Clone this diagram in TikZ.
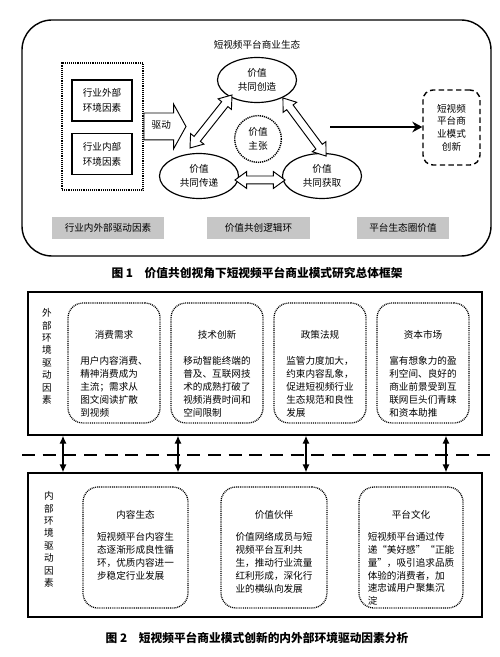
\documentclass[tikz,border=0pt]{standalone}
\usepackage{fontspec}
\setmainfont{Noto Sans CJK SC}
\usetikzlibrary{arrows.meta,positioning,shapes.geometric,shapes.arrows}
\definecolor{LabelGray}{RGB}{198,198,198}
\tikzset{
  txt/.style={inner sep=0pt,font=\fontsize{8.2}{11}\selectfont},
  ecoframe/.style={draw,line width=1.2pt},
  driverbox/.style={draw,line width=0.9pt,dash pattern=on 0.7pt off 0.9pt,minimum width=24.3mm,minimum height=38.1mm},
  envbox/.style={draw,line width=1.1pt,minimum width=18mm,minimum height=12.3mm,align=center,inner sep=0pt,font=\fontsize{8.2}{13}\selectfont},
  phase/.style={ellipse,draw,line width=1pt,minimum width=23.7mm,minimum height=13.5mm,align=center,inner sep=0pt,font=\fontsize{8.2}{12.5}\selectfont},
  propcircle/.style={circle,draw,line width=1.2pt,dash pattern=on 1pt off 0.8pt,minimum size=14mm,align=center,inner sep=0pt,font=\fontsize{8.2}{12.5}\selectfont},
  hollow/.style={double arrow,draw,line width=0.8pt,fill=white,inner sep=1.05mm,double arrow head extend=1.35mm,double arrow tip angle=72},
  drive/.style={single arrow,draw,line width=0.8pt,fill=white,single arrow head extend=2.7mm,single arrow tip angle=122,minimum height=12.6mm,inner xsep=1mm,inner ysep=2.45mm,text height=2.2mm,text depth=0.7mm,font=\fontsize{8.2}{10}\selectfont},
  flow/.style={-{Stealth[length=3mm,width=3.2mm]},line width=2pt},
  innobox/.style={draw,line width=1.2pt,dash pattern=on 1.6mm off 1mm,rounded corners=3mm,minimum width=17.1mm,minimum height=22.5mm,align=center,inner sep=0pt,font=\fontsize{8.2}{10.8}\selectfont},
  graylabel/.style={fill=LabelGray,minimum height=6.6mm,inner sep=0pt,font=\fontsize{8.2}{10}\selectfont},
  factorbox/.style={draw,line width=1.1pt,dash pattern=on 0.8pt off 0.8pt,rounded corners=4.5mm},
  ftext/.style={txt,align=left},
  vlabel/.style={align=center,inner sep=0pt,font=\fontsize{8.2}{10.6}\selectfont},
  link/.style={{Latex[length=2.4mm,width=2.2mm]}-{Latex[length=2.4mm,width=2.2mm]},line width=1.2pt},
  sepline/.style={line width=2pt,dash pattern=on 3.9mm off 2.3mm},
  captext/.style={inner sep=0pt,font=\fontsize{10}{12}\selectfont\bfseries}
}

\begin{document}
\begin{tikzpicture}[x=0.3mm,y=-0.3mm]
\useasboundingbox (0,0) rectangle (500,657);
% figure 1: ecosystem frame
\node[ecoframe,rounded corners=9mm,minimum width=140.7mm,minimum height=70.8mm] (eco) at (256.5,138) {};
\node[txt] (ecotitle) at (257,45) {短视频平台商业生态};

\node[driverbox] (drivers) at (102.5,126.5) {};
\node[envbox] (extfac) at (102,100.5) {行业外部\\环境因素};
\node[envbox] (intfac) at (102,154) {行业内部\\环境因素};
\node[drive,anchor=tail] (drv) at (drivers.east) {驱动};

\node[phase] (create) at (257,80) {价值\\共同创造};
\node[phase] (deliver) at (199,176) {价值\\共同传递};
\node[phase] (capture) at (322,176) {价值\\共同获取};
\node[propcircle] (prop) at (258,139) {价值\\主张};

\node[hollow,minimum height=20.3mm,rotate=51.6] (cd) at (211,121.5) {};
\node[hollow,minimum height=21.7mm,rotate=-53.4] (cc) at (304.5,127) {};
\node[hollow,minimum height=15mm] (dc) at (260,180) {};

\node[innobox] (innov) at (451.5,127.5) {短视频\\平台商\\业模式\\创新};
\coordinate (loopout) at (330,127);
\draw[flow] (loopout) -- (innov.west |- loopout);

\node[graylabel,minimum width=33.6mm] (lab1) at (108,228) {行业内外部驱动因素};
\node[graylabel,minimum width=30.9mm] (lab2) at (258.5,228) {价值共创逻辑环};
\node[graylabel,minimum width=27.6mm] (lab3) at (403,228) {平台生态圈价值};

\node[captext] (cap1) at (257,273) {图 1\quad 价值共创视角下短视频平台商业模式研究总体框架};

% figure 2: external factors
\node[ecoframe,minimum width=136.2mm,minimum height=42.9mm] (extenv) at (255,363.5) {};
\node[vlabel] (extlab) at (47,356.5) {外\\部\\环\\境\\驱\\动\\因\\素};

\node[factorbox,minimum width=27.6mm,minimum height=36mm] (f1) at (114,363) {};
\node[txt] (f1t) at (114,335) {消费需求};
\node[ftext,below=5mm of f1t] (f1b) {用户内容消费、\\精神消费成为\\主流；需求从\\图文阅读扩散\\到视频};

\node[factorbox,minimum width=27.6mm,minimum height=36mm] (f2) at (217,363) {};
\node[txt] (f2t) at (217,335) {技术创新};
\node[ftext,below=5mm of f2t] (f2b) {移动智能终端的\\普及、互联网技\\术的成熟打破了\\视频消费时间和\\空间限制};

\node[factorbox,minimum width=27.6mm,minimum height=36mm] (f3) at (320,363) {};
\node[txt] (f3t) at (320,335) {政策法规};
\node[ftext,below=5mm of f3t] (f3b) {监管力度加大，\\约束内容乱象，\\促进短视频行业\\生态规范和良性\\发展};

\node[factorbox,minimum width=27.6mm,minimum height=36mm] (f4) at (423,363) {};
\node[txt] (f4t) at (423,335) {资本市场};
\node[ftext,below=5mm of f4t] (f4b) {富有想象力的盈\\利空间、良好的\\商业前景受到互\\联网巨头们青睐\\和资本助推};

% separator and links
\coordinate (sepL) at (22,455);
\coordinate (sepR) at (490,455);
\draw[sepline] (sepL) -- (sepR);

% figure 2: internal factors
\node[ecoframe,minimum width=136.2mm,minimum height=43.2mm] (intenv) at (255,545) {};
\node[vlabel] (intlab) at (49,539.5) {内\\部\\环\\境\\驱\\动\\因\\素};

\foreach \x in {63,178,306,446}
  \draw[link] (extenv.south -| \x,0) -- (intenv.north -| \x,0);

\node[factorbox,minimum width=31.5mm,minimum height=36.3mm] (g1) at (135.5,547.5) {};
\node[txt] (g1t) at (135.5,515) {内容生态};
\node[ftext,below=3.7mm of g1t] (g1b) {短视频平台内容生\\态逐渐形成良性循\\环，优质内容进一\\步稳定行业发展};

\node[factorbox,minimum width=31.8mm,minimum height=36.3mm] (g2) at (274,547.5) {};
\node[txt] (g2t) at (274,515) {价值伙伴};
\node[ftext,below=3.7mm of g2t] (g2b) {价值网络成员与短\\视频平台互利共\\生，推动行业流量\\红利形成，深化行\\业的横纵向发展};

\node[factorbox,minimum width=31.2mm,minimum height=36.3mm] (g3) at (411,547.5) {};
\node[txt] (g3t) at (411,515) {平台文化};
\node[ftext,below=3.7mm of g3t] (g3b) {短视频平台通过传\\递“美好感”“正能\\量”，吸引追求品质\\体验的消费者，加\\速忠诚用户聚集沉\\淀};

\node[captext] (cap2) at (257,638) {图 2\quad 短视频平台商业模式创新的内外部环境驱动因素分析};
\end{tikzpicture}
\end{document}
